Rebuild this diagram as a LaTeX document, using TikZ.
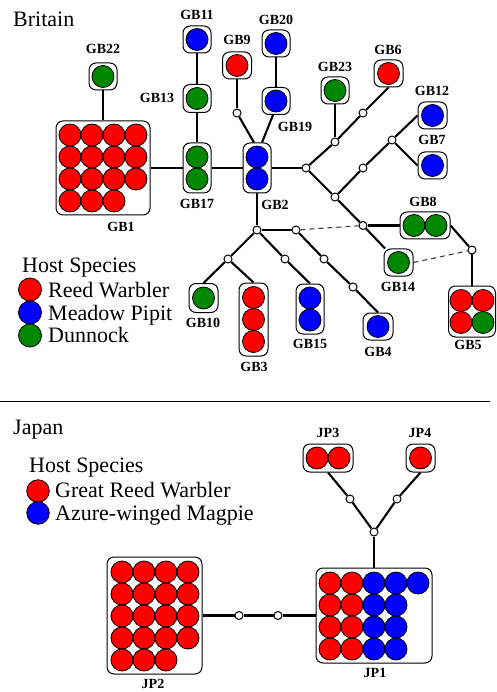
\documentclass[tikz,border=0pt]{standalone}
\usepackage{fontspec}
\setmainfont{Liberation Serif}
\usetikzlibrary{backgrounds}
\definecolor{gbred}{RGB}{255,0,0}
\definecolor{gbblue}{RGB}{0,0,255}
\definecolor{gbgreen}{RGB}{0,135,0}
\tikzset{
  hbox/.style={draw, rounded corners=7pt, fill=white, line width=1pt, inner sep=0pt},
  hdot/.style={circle, draw, minimum size=22pt, inner sep=0pt, line width=0.8pt},
  rdot/.style={hdot, fill=gbred},
  bdot/.style={hdot, fill=gbblue},
  gdot/.style={hdot, fill=gbgreen},
  jn/.style={circle, draw, fill=white, minimum size=8pt, inner sep=0pt, line width=1pt},
  lab/.style={font=\fontsize{14}{14}\selectfont\bfseries, inner sep=0pt},
  big/.style={font=\fontsize{22}{24}\selectfont, inner sep=0pt, anchor=base west},
  conn/.style={line width=2.1pt},
  dline/.style={dash pattern=on 5pt off 4pt, line width=1.1pt, black!75},
}
\begin{document}
\begin{tikzpicture}[x={(1pt,0pt)}, y={(0pt,-1pt)}]
\useasboundingbox (0,0) rectangle (496,692);

% ---------------- Britain ----------------
\node[big] (tBritain) at (13,27) {Britain};

% boxes
\node[hbox, minimum width=28pt, minimum height=27pt] (GB22) at (103,76.5) {};
\node[gdot] (GB22a) at (103,76.5) {};
\node[hbox, minimum width=94pt, minimum height=94pt] (GB1) at (103,168) {};
\foreach \c/\r [count=\i] in {0/0,1/0,2/0,3/0,0/1,1/1,2/1,3/1,0/2,1/2,2/2,3/2,0/3,1/3,2/3}
  \node[rdot] (GB1-\i) at ({70+22*\c},{135+22*\r}) {};
\node[hbox, minimum width=28pt, minimum height=27pt] (GB11) at (197,39.5) {};
\node[bdot] (GB11a) at (197,39.5) {};
\node[hbox, minimum width=28pt, minimum height=28pt] (GB13) at (197,98.5) {};
\node[gdot] (GB13a) at (197,98.5) {};
\node[hbox, minimum width=28pt, minimum height=50pt] (GB17) at (197,168) {};
\node[gdot] (GB17a) at (197,157) {};
\node[gdot] (GB17b) at (197,179) {};
\node[hbox, minimum width=28pt, minimum height=50pt] (GB2) at (257,168) {};
\node[bdot] (GB2a) at (257,157) {};
\node[bdot] (GB2b) at (257,179) {};
\node[hbox, minimum width=29pt, minimum height=27pt] (GB9) at (237,65.5) {};
\node[rdot] (GB9a) at (237,65.5) {};
\node[hbox, minimum width=28pt, minimum height=27pt] (GB20) at (276,43.5) {};
\node[bdot] (GB20a) at (276,43.5) {};
\node[hbox, minimum width=28pt, minimum height=27pt] (GB19) at (276,101) {};
\node[bdot] (GB19a) at (276,101) {};
\node[hbox, minimum width=28pt, minimum height=27pt] (GB23) at (335,90.5) {};
\node[gdot] (GB23a) at (335,90.5) {};
\node[hbox, minimum width=29pt, minimum height=27pt] (GB6) at (388.5,73.5) {};
\node[rdot] (GB6a) at (388.5,73.5) {};
\node[hbox, minimum width=29pt, minimum height=27pt] (GB12) at (432.5,115.5) {};
\node[bdot] (GB12a) at (432.5,115.5) {};
\node[hbox, minimum width=29pt, minimum height=27pt] (GB7) at (432.5,165.5) {};
\node[bdot] (GB7a) at (432.5,165.5) {};
\node[hbox, minimum width=50pt, minimum height=27pt] (GB8) at (425,225.5) {};
\node[gdot] (GB8a) at (414,225.5) {};
\node[gdot] (GB8b) at (436,225.5) {};
\node[hbox, minimum width=29pt, minimum height=27pt] (GB14) at (398.5,262.5) {};
\node[gdot] (GB14a) at (398.5,262.5) {};
\node[hbox, minimum width=47pt, minimum height=51pt] (GB5) at (472,311.5) {};
\node[rdot] (GB5a) at (461,300.5) {};
\node[rdot] (GB5b) at (483,300.5) {};
\node[rdot] (GB5c) at (461,322.5) {};
\node[gdot] (GB5d) at (483,322.5) {};
\node[hbox, minimum width=30pt, minimum height=27pt] (GB4) at (378,326.5) {};
\node[bdot] (GB4a) at (378,326.5) {};
\node[hbox, minimum width=28pt, minimum height=50pt] (GB15) at (310,309) {};
\node[bdot] (GB15a) at (310,298) {};
\node[bdot] (GB15b) at (310,320) {};
\node[hbox, minimum width=29pt, minimum height=29pt] (GB10) at (203.5,298) {};
\node[gdot] (GB10a) at (203.5,298) {};
\node[hbox, minimum width=29pt, minimum height=73pt] (GB3) at (253.5,319.5) {};
\node[rdot] (GB3a) at (253.5,297.5) {};
\node[rdot] (GB3b) at (253.5,319.5) {};
\node[rdot] (GB3c) at (253.5,341.5) {};

% junctions
\node[jn] (j9) at (237,113) {};
\node[jn] (n1) at (306,168) {};
\node[jn] (n2) at (335,142) {};
\node[jn] (n3) at (363,113) {};
\node[jn] (n4) at (335,197) {};
\node[jn] (n5) at (363,225.5) {};
\node[jn] (n6) at (363,168) {};
\node[jn] (n7) at (392,140) {};
\node[jn] (n8) at (472,250) {};
\node[jn] (n9) at (257,230) {};
\node[jn] (n10) at (296,230) {};
\node[jn] (n11) at (324,259) {};
\node[jn] (n12) at (353,287) {};
\node[jn] (n13) at (285,259) {};
\node[jn] (n14) at (228,259) {};

% labels
\node[lab] (lGB22) at (103,49) {GB22};
\node[lab] (lGB1) at (121,227) {GB1};
\node[lab] (lGB11) at (197,15) {GB11};
\node[lab] (lGB13) at (157,98) {GB13};
\node[lab] (lGB17) at (197,204) {GB17};
\node[lab] (lGB9) at (237,40) {GB9};
\node[lab] (lGB20) at (276,20) {GB20};
\node[lab] (lGB19) at (295,127) {GB19};
\node[lab] (lGB2) at (275,205) {GB2};
\node[lab] (lGB23) at (335,67) {GB23};
\node[lab] (lGB6) at (388,50) {GB6};
\node[lab] (lGB12) at (432,91) {GB12};
\node[lab] (lGB7) at (432,140) {GB7};
\node[lab] (lGB8) at (423,202) {GB8};
\node[lab] (lGB14) at (398,287) {GB14};
\node[lab] (lGB5) at (468,345) {GB5};
\node[lab] (lGB4) at (378,352) {GB4};
\node[lab] (lGB15) at (310,344) {GB15};
\node[lab] (lGB10) at (203,323) {GB10};
\node[lab] (lGB3) at (254,367) {GB3};

% legend
\node[big] (hsB) at (22,272) {Host Species};
\node[rdot, minimum size=23pt] (legR) at (30,289.5) {};
\node[bdot, minimum size=23pt] (legB) at (30,312.5) {};
\node[gdot, minimum size=23pt] (legG) at (30,335.5) {};
\node[big] (legRt) at (48,297.5) {Reed Warbler};
\node[big] (legBt) at (48,320) {Meadow Pipit};
\node[big] (legGt) at (48,342.5) {Dunnock};

% separator
\draw[line width=1pt] (0,401) -- (490,401);

% ---------------- Japan ----------------
\node[big] (tJapan) at (13,434) {Japan};
\node[big] (hsJ) at (29,472.5) {Host Species};
\node[rdot, minimum size=22.5pt] (jlegR) at (38,491) {};
\node[bdot, minimum size=22.5pt] (jlegB) at (38,513) {};
\node[big] (jlegRt) at (55,497.5) {Great Reed Warbler};
\node[big] (jlegBt) at (55,520) {Azure-winged Magpie};

\node[hbox, minimum width=50pt, minimum height=28pt] (JP3) at (328,458) {};
\node[rdot] (JP3a) at (317,458) {};
\node[rdot] (JP3b) at (339,458) {};
\node[hbox, minimum width=29pt, minimum height=28pt] (JP4) at (420.5,458) {};
\node[rdot] (JP4a) at (420.5,458) {};
\node[hbox, minimum width=95pt, minimum height=117pt] (JP2) at (154.5,615.5) {};
\foreach \c/\r [count=\i] in {0/0,1/0,2/0,3/0,0/1,1/1,2/1,3/1,0/2,1/2,2/2,3/2,0/3,1/3,2/3,3/3,0/4,1/4,2/4}
  \node[rdot] (JP2-\i) at ({122+22*\c},{572+22*\r}) {};
\node[hbox, minimum width=116pt, minimum height=95pt] (JP1) at (374,615.5) {};
\foreach \c/\r [count=\i] in {0/0,1/0,0/1,1/1,0/2,1/2,0/3,1/3}
  \node[rdot] (JP1r-\i) at ({330+22*\c},{583+22*\r}) {};
\foreach \c/\r [count=\i] in {2/0,3/0,4/0,2/1,3/1,2/2,3/2,2/3,3/3}
  \node[bdot] (JP1b-\i) at ({330+22*\c},{583+22*\r}) {};

\node[jn] (ja) at (350,499) {};
\node[jn] (jb) at (397,499) {};
\node[jn] (jc) at (374,532) {};
\node[jn] (jd) at (239,615.5) {};
\node[jn] (je) at (278,615.5) {};

\node[lab] (lJP3) at (328,433) {JP3};
\node[lab] (lJP4) at (420,433) {JP4};
\node[lab] (lJP2) at (153,684) {JP2};
\node[lab] (lJP1) at (375,673) {JP1};

% ---------------- connectors ----------------
\begin{scope}[on background layer]
\draw[conn] (GB22) -- (GB1);
\draw[conn] (GB1.east) -- (GB17.west);
\draw[conn] (GB11) -- (GB13);
\draw[conn] (GB13) -- (GB17);
\draw[conn] (GB17.east) -- (GB2.west);
\draw[conn] (GB9) -- (j9);
\draw[conn] (j9) -- ([xshift=-3pt]GB2.north);
\draw[conn] (GB20) -- (GB19);
\draw[conn] ([xshift=-3pt]GB19.south) -- ([xshift=5pt]GB2.north);
\draw[conn] (GB2.east) -- (n1);
\draw[conn] (n1) -- (n2);
\draw[conn] (n2) -- (GB23);
\draw[conn] (n2) -- (n3);
\draw[conn] (n3) -- (GB6.south);
\draw[conn] (n1) -- (n4);
\draw[conn] (n4) -- (n5);
\draw[conn] (n5) -- (GB14);
\draw[conn] (n5) -- (GB8.west);
\draw[conn] (n4) -- (n6);
\draw[conn] (n6) -- (n7);
\draw[conn] (n7) -- (GB12.west);
\draw[conn] (n7) -- (GB7.west);
\draw[conn] (GB8.east) -- (n8);
\draw[conn] (n8) -- (GB5.north);
\draw[dline] (GB14.east) -- (n8);
\draw[dline] (n10) -- (n5);
\draw[conn] (GB2.south) -- (n9);
\draw[conn] (n9) -- (n10);
\draw[conn] (n10) -- (n11);
\draw[conn] (n11) -- (n12);
\draw[conn] (n12) -- (GB4.north);
\draw[conn] (n9) -- (n13);
\draw[conn] (n13) -- (GB15.north);
\draw[conn] (n9) -- (n14);
\draw[conn] (n14) -- (GB10.north);
\draw[conn] (n14) -- (GB3.north);
\draw[conn] (JP3.south) -- (ja);
\draw[conn] (ja) -- (jc);
\draw[conn] (JP4.south) -- (jb);
\draw[conn] (jb) -- (jc);
\draw[conn] (jc) -- (JP1.north);
\draw[conn] (JP2.east) -- (jd);
\draw[conn] (jd) -- (je);
\draw[conn] (je) -- (JP1.west);
\end{scope}
\end{tikzpicture}
\end{document}
